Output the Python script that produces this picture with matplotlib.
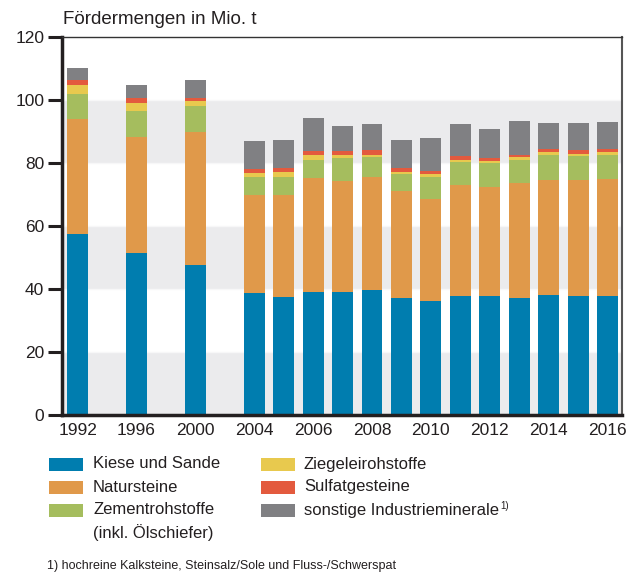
import matplotlib.pyplot as plt
from matplotlib.patches import Rectangle
import numpy as np

plt.rcParams['font.family'] = ['Liberation Sans', 'DejaVu Sans']

years = ['1992', '1996', '2000', '2004', '2005', '2006', '2007', '2008', '2009',
         '2010', '2011', '2012', '2013', '2014', '2015', '2016']
# slot index of each bar (gaps between 1992, 1996, 2000, 2004)
slots = [0, 2, 4, 6, 7, 8, 9, 10, 11, 12, 13, 14, 15, 16, 17, 18]
tick_slots = [0, 2, 4, 6, 8, 10, 12, 14, 16, 18]
tick_labels = ['1992', '1996', '2000', '2004', '2006', '2008', '2010', '2012', '2014', '2016']

kiese = [57.6, 51.5, 47.5, 38.6, 37.5, 38.9, 38.9, 39.8, 37.2, 36.3, 37.9, 37.9, 37.2, 38.2, 37.9, 37.9]
natur = [36.3, 36.9, 42.2, 31.2, 32.5, 36.2, 35.3, 35.7, 33.8, 32.4, 35.1, 34.6, 36.4, 36.3, 36.6, 36.9]
zement = [7.9, 8.0, 8.4, 5.7, 5.7, 6.0, 7.3, 6.3, 5.4, 7.0, 7.3, 7.5, 7.2, 8.0, 7.6, 7.7]
ziegel = [2.9, 2.5, 1.5, 1.2, 1.3, 1.6, 1.2, 0.9, 0.9, 0.7, 0.8, 0.6, 1.0, 1.0, 0.9, 0.9]
sulfat = [1.6, 1.6, 0.9, 1.3, 1.3, 1.1, 1.1, 1.3, 1.0, 1.2, 1.0, 0.9, 0.9, 0.9, 1.0, 1.0]
sonstige = [3.8, 4.2, 5.8, 8.9, 8.9, 10.4, 8.1, 8.3, 8.9, 10.2, 10.2, 9.2, 10.5, 8.2, 8.6, 8.5]

series = [kiese, natur, zement, ziegel, sulfat, sonstige]
colors = ['#007DAF', '#E0994A', '#A5BD5E', '#E8C94E', '#E35A3E', '#808083']
labels = ['Kiese und Sande', 'Natursteine', 'Zementrohstoffe\n(inkl. Ölschiefer)',
          'Ziegeleirohstoffe', 'Sulfatgesteine', 'sonstige Industrieminerale']

fig = plt.figure(figsize=(6.34, 5.74), dpi=100)
ax = fig.add_axes([0.0983, 0.277, 0.8823, 0.6585])

# alternating background bands
for lo in (0, 40, 80):
    ax.axhspan(lo, lo + 20, color='#EBEBED', zorder=0, lw=0)
for y in range(20, 120, 20):
    ax.axhline(y, color='#F7F7F8', lw=1, zorder=0.5)

bottom = np.zeros(len(years))
for vals, col in zip(series, colors):
    ax.bar(slots, vals, width=0.71, bottom=bottom, color=col, zorder=2, lw=0)
    bottom += np.array(vals)

ax.set_xlim(-0.52, 18.48)
ax.set_ylim(0, 120)
ax.set_yticks(range(0, 121, 20))
ax.set_xticks(tick_slots)
ax.set_xticklabels(tick_labels)
ax.tick_params(axis='y', direction='out', length=10, width=2.2, color='#231F20',
               labelsize=12.5, pad=3, labelcolor='#231F20')
ax.tick_params(axis='x', length=0, labelsize=12.5, pad=6, labelcolor='#231F20')
ax.spines['left'].set_linewidth(2.5)
ax.spines['bottom'].set_linewidth(2.5)
ax.spines['left'].set_color('#231F20')
ax.spines['bottom'].set_color('#231F20')
ax.spines['top'].set_linewidth(1.0)
ax.spines['top'].set_color('#333333')
ax.spines['right'].set_linewidth(1.5)
ax.spines['right'].set_color('#555555')

fig.text(63 / 634, 1 - 19 / 574, 'Fördermengen in Mio. t', fontsize=13.5,
         color='#231F20', va='center', ha='left')

# legend drawn by hand, two columns
W, H = 634, 574
rows = [464, 487, 510]
last = None
for i, (lab, col) in enumerate(zip(labels, colors)):
    cx = 49 if i < 3 else 261
    tx = 93 if i < 3 else 304
    yc = rows[i % 3]
    fig.patches.append(Rectangle((cx / W, 1 - (yc + 6.5) / H), 34 / W, 13 / H,
                                 transform=fig.transFigure, color=col, lw=0))
    for k, line in enumerate(lab.split('\n')):
        last = fig.text(tx / W, 1 - (yc + 23 * k) / H, line, fontsize=12,
                        va='center', ha='left', color='#231F20')

# footnote marker after the last legend label
fig.canvas.draw()
bb = last.get_window_extent(fig.canvas.get_renderer())
fig.text((bb.x1 + 1) / W, 1 - (yc - 4) / H, '1)', fontsize=7, va='center',
         ha='left', color='#231F20')

fig.text(47 / W, 1 - 566 / H, '1) hochreine Kalksteine, Steinsalz/Sole und Fluss-/Schwerspat',
         fontsize=9.0, va='center', ha='left', color='#231F20')

fig.savefig('out.png', dpi=100)
